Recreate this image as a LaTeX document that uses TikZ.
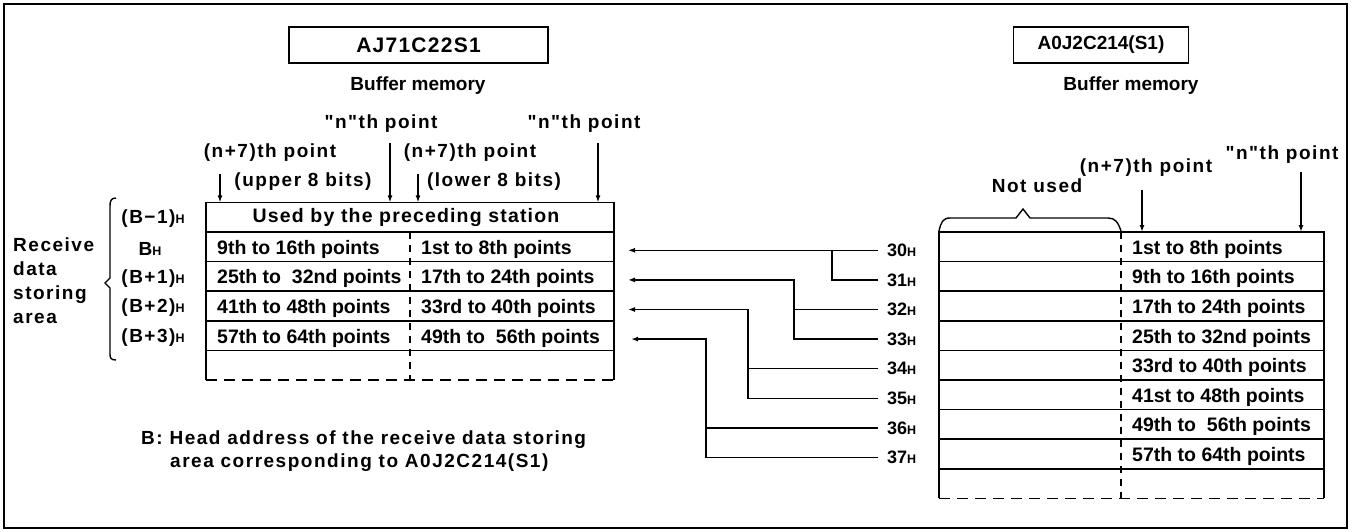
\documentclass[tikz,border=0pt]{standalone}
\usepackage{fontspec}
\setmainfont{Liberation Sans}
\newfontfamily\lspfont[LetterSpace=8]{Liberation Sans}
\newfontfamily\hdrfont[LetterSpace=6]{Liberation Sans}
\usetikzlibrary{arrows.meta}
\newcommand\hsub{{\fontsize{12.5}{12.5}\selectfont H}}
\begin{document}
\begin{tikzpicture}[x=1pt,y=-1pt,
  tl/.style={line width=1.6pt},
  wire/.style={line width=1.4pt},
  divider/.style={line width=1.2pt,dash pattern=on 7pt off 6pt},
  dbottom/.style={line width=1.6pt,dash pattern=on 11pt off 7pt},
  arr/.style={line width=1.4pt,-{Latex[length=7pt,width=5pt]}},
  cell/.style={anchor=base west,inner sep=0pt,font=\fontsize{19.5}{20}\selectfont\bfseries},
  lab/.style={inner sep=0pt,font=\lspfont\fontsize{19}{20}\selectfont\bfseries},
  plab/.style={inner sep=0pt,font=\fontsize{19}{20}\selectfont\bfseries},
  addr/.style={inner sep=0pt,anchor=west,font=\fontsize{18}{20}\selectfont\bfseries},
  titlebox/.style={draw,line width=1.6pt,inner sep=0pt,minimum height=36pt}]

\useasboundingbox (0,0) rectangle (1355,532);
\draw[line width=2.5pt] (4,4) rectangle (1347,528);

% ---------- left unit ----------
\node[titlebox,minimum width=259pt,font=\hdrfont\fontsize{21}{22}\selectfont\bfseries] (boxL) at (418.5,45) {AJ71C22S1};
\node[plab] (bufL) at (418,86) {Buffer memory};
\node[lab] (nL1) at (381,124) {"n"th point};
\node[lab] (nL2) at (584,124) {"n"th point};
\node[lab] (pL1) at (270,153) {(n+7)th point};
\node[lab] (pL2) at (470,153) {(n+7)th point};
\node[lab] (upL) at (303,182) {(upper 8 bits)};
\node[lab] (loL) at (494,182) {(lower 8 bits)};

\coordinate (u1) at (220,174); \coordinate (v1) at (220,202.4);
\coordinate (u2) at (390,143); \coordinate (v2) at (390,202.4);
\coordinate (u3) at (418,174); \coordinate (v3) at (418,202.4);
\coordinate (u4) at (598,143); \coordinate (v4) at (598,202.4);
\draw[arr] (u1) -- (v1);
\draw[arr] (u2) -- (v2);
\draw[arr] (u3) -- (v3);
\draw[arr] (u4) -- (v4);

% left table
\draw[tl] (206,380) -- (206,202.4) -- (614,202.4) -- (614,380);
\foreach \y in {232,261.6,291.2,320.8,350.4} \draw[tl] (206,\y) -- (614,\y);
\draw[dbottom] (206,380) -- (614,380);
\draw[divider] (410,232) -- (410,380);

\node[inner sep=0pt,font=\hdrfont\fontsize{19.5}{20}\selectfont\bfseries] (hdr) at (406,218) {Used by the preceding station};
\node[cell] (c0a) at (217,254.3) {9th to 16th points};
\node[cell] (c1a) at (217,283.9) {25th to\ \ 32nd points};
\node[cell] (c2a) at (217,313.5) {41th to 48th points};
\node[cell] (c3a) at (217,343.1) {57th to 64th points};
\node[cell] (c0b) at (421,254.3) {1st to 8th points};
\node[cell] (c1b) at (421,283.9) {17th to 24th points};
\node[cell] (c2b) at (421,313.5) {33rd to 40th points};
\node[cell] (c3b) at (421,343.1) {49th to\ \ 56th points};

\node[lab] (bm1) at (153,219) {(B−1)\hsub};
\node[lab] (b0) at (150,249) {B\hsub};
\node[lab] (bp1) at (153,278.5) {(B+1)\hsub};
\node[lab] (bp2) at (153,308) {(B+2)\hsub};
\node[lab] (bp3) at (153,337.5) {(B+3)\hsub};

\draw[wire] (116,198) .. controls (111,198) and (110,201) .. (110,206) -- (110,278) -- (105,283) -- (110,288) -- (110,354) .. controls (110,358) and (111,360) .. (116,360);
\node[anchor=west,align=left,inner sep=0pt,font=\lspfont\fontsize{19}{24}\selectfont\bfseries] (rcv) at (13,281) {Receive\\data\\storing\\area};

\node[anchor=base west,inner sep=0pt,font=\lspfont\fontsize{19}{20}\selectfont\bfseries] (note1) at (141,444) {B: Head address of the receive data storing};
\node[anchor=base west,inner sep=0pt,font=\lspfont\fontsize{19}{20}\selectfont\bfseries] (note2) at (170,467) {area corresponding to A0J2C214(S1)};

% ---------- right unit ----------
\node[titlebox,minimum width=175pt,font=\fontsize{19}{20}\selectfont\bfseries] (boxR) at (1101,45) {A0J2C214(S1)};
\node[plab] (bufR) at (1131,86) {Buffer memory};
\node[lab] (nR) at (1282,155) {"n"th point};
\node[lab] (pR) at (1146,168) {(n+7)th point};
\node[lab] (nu) at (1037,186) {Not used};
\coordinate (u5) at (1142,190); \coordinate (v5) at (1142,232);
\coordinate (u6) at (1301,172); \coordinate (v6) at (1301,232);
\draw[arr] (u5) -- (v5);
\draw[arr] (u6) -- (v6);
\draw[wire] (939,231) .. controls (941,222) and (943,218) .. (950,218) -- (1016,218) -- (1023,209) -- (1030,218) -- (1108,218) .. controls (1115,218) and (1118,222) .. (1121,231);

\draw[tl] (939,498.4) -- (939,232) -- (1324,232) -- (1324,498.4);
\foreach \k in {1,...,8} \draw[tl] (939,{232+29.6*\k}) -- (1324,{232+29.6*\k});
\draw[dbottom] (939,498.4) -- (1324,498.4);
\draw[divider] (1121,232) -- (1121,498.4);

\foreach \k/\t in {0/1st to 8th points,1/9th to 16th points,2/17th to 24th points,3/25th to 32nd points,4/33rd to 40th points,5/41st to 48th points,6/49th to\ \ 56th points,7/57th to 64th points}{
  \node[cell] (r\k) at (1132,{254.3+29.6*\k}) {\t};
}

\foreach \k in {0,...,7}{
  \pgfmathsetmacro\yy{250.3+29.6*\k}
  \pgfmathtruncatemacro\num{30+\k}
  \node[addr] (a\k) at (887,\yy) {\num\hsub};
  \coordinate (e\k) at (878,\yy);
}

% connectors
\coordinate (t0) at (628,250.3);
\coordinate (t1) at (628,279.9);
\coordinate (t2) at (628,309.5);
\coordinate (t3) at (631,339.1);
\coordinate (j0) at (832,250.3);
\coordinate (j1) at (794,279.9);
\coordinate (j2) at (748,309.5);
\coordinate (j3) at (706,339.1);
\draw[arr] (e0) -- (t0);
\draw[wire] (e1) -| (j0);
\draw[arr] (e2) -| (j1) -- (t1);
\draw[wire] (e3) -| (j1);
\draw[arr] (e4) -| (j2) -- (t2);
\draw[wire] (e5) -| (j2);
\draw[arr] (e6) -| (j3) -- (t3);
\draw[wire] (e7) -| (j3);
\end{tikzpicture}
\end{document}
